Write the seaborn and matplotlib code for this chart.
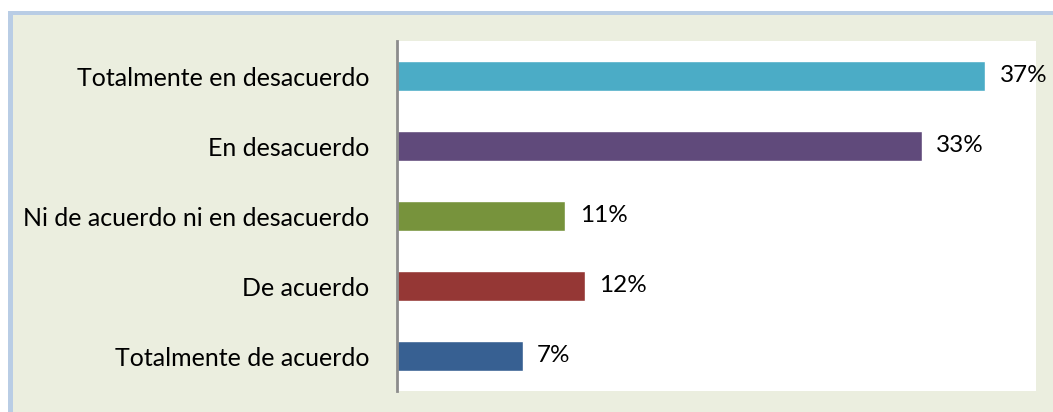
import matplotlib
matplotlib.use("Agg")
import matplotlib.pyplot as plt
from matplotlib.patches import Rectangle
import seaborn as sns
import pandas as pd

categories = ["Totalmente en desacuerdo", "En desacuerdo",
              "Ni de acuerdo ni en desacuerdo", "De acuerdo",
              "Totalmente de acuerdo"]
values = [37.0, 33.0, 10.6, 11.8, 7.9]
value_labels = ["37%", "33%", "11%", "12%", "7%"]
colors = ["#4BACC6", "#604A7B", "#77933C", "#953735", "#376092"]

sns.set_theme(style="white")
plt.rcParams["font.family"] = ["Lato", "DejaVu Sans"]

W, H = 1053, 412
fig = plt.figure(figsize=(W / 100, H / 100), dpi=100)
fig.patch.set_facecolor("white")

# outer frame: blue edge on left/top, greenish fill
fig.patches.append(Rectangle((8 / W, 0), 1, (H - 11) / H, transform=fig.transFigure,
                             facecolor="#B9CDE5", edgecolor="none", zorder=-10))
fig.patches.append(Rectangle((13 / W, 0), 1, (H - 15) / H, transform=fig.transFigure,
                             facecolor="#EBEEDF", edgecolor="none", zorder=-9))

ax = fig.add_axes([397 / W, (H - 391) / H, (1036 - 397) / W, (391 - 41) / H])
ax.set_facecolor("white")

df = pd.DataFrame({"cat": categories, "val": values})
sns.barplot(data=df, y="cat", x="val", hue="cat", palette=colors, orient="h",
            width=0.415, legend=False, ax=ax, saturation=1)

for i, (v, lab) in enumerate(zip(values, value_labels)):
    ax.text(v + 0.9, i, lab, va="center", ha="left", fontsize=17.5, color="black",
            clip_on=False)

ax.set_xlim(0, 40.2)
ax.set_ylim(4.5, -0.5)
ax.set_xlabel("")
ax.set_ylabel("")
ax.set_xticks([])
ax.tick_params(axis="y", length=0, pad=20, labelsize=18, labelcolor="black")
for s in ["top", "right", "bottom"]:
    ax.spines[s].set_visible(False)
ax.spines["left"].set_color("#8C8C8C")
ax.spines["left"].set_linewidth(2)

fig.savefig("out.png", dpi=100)
